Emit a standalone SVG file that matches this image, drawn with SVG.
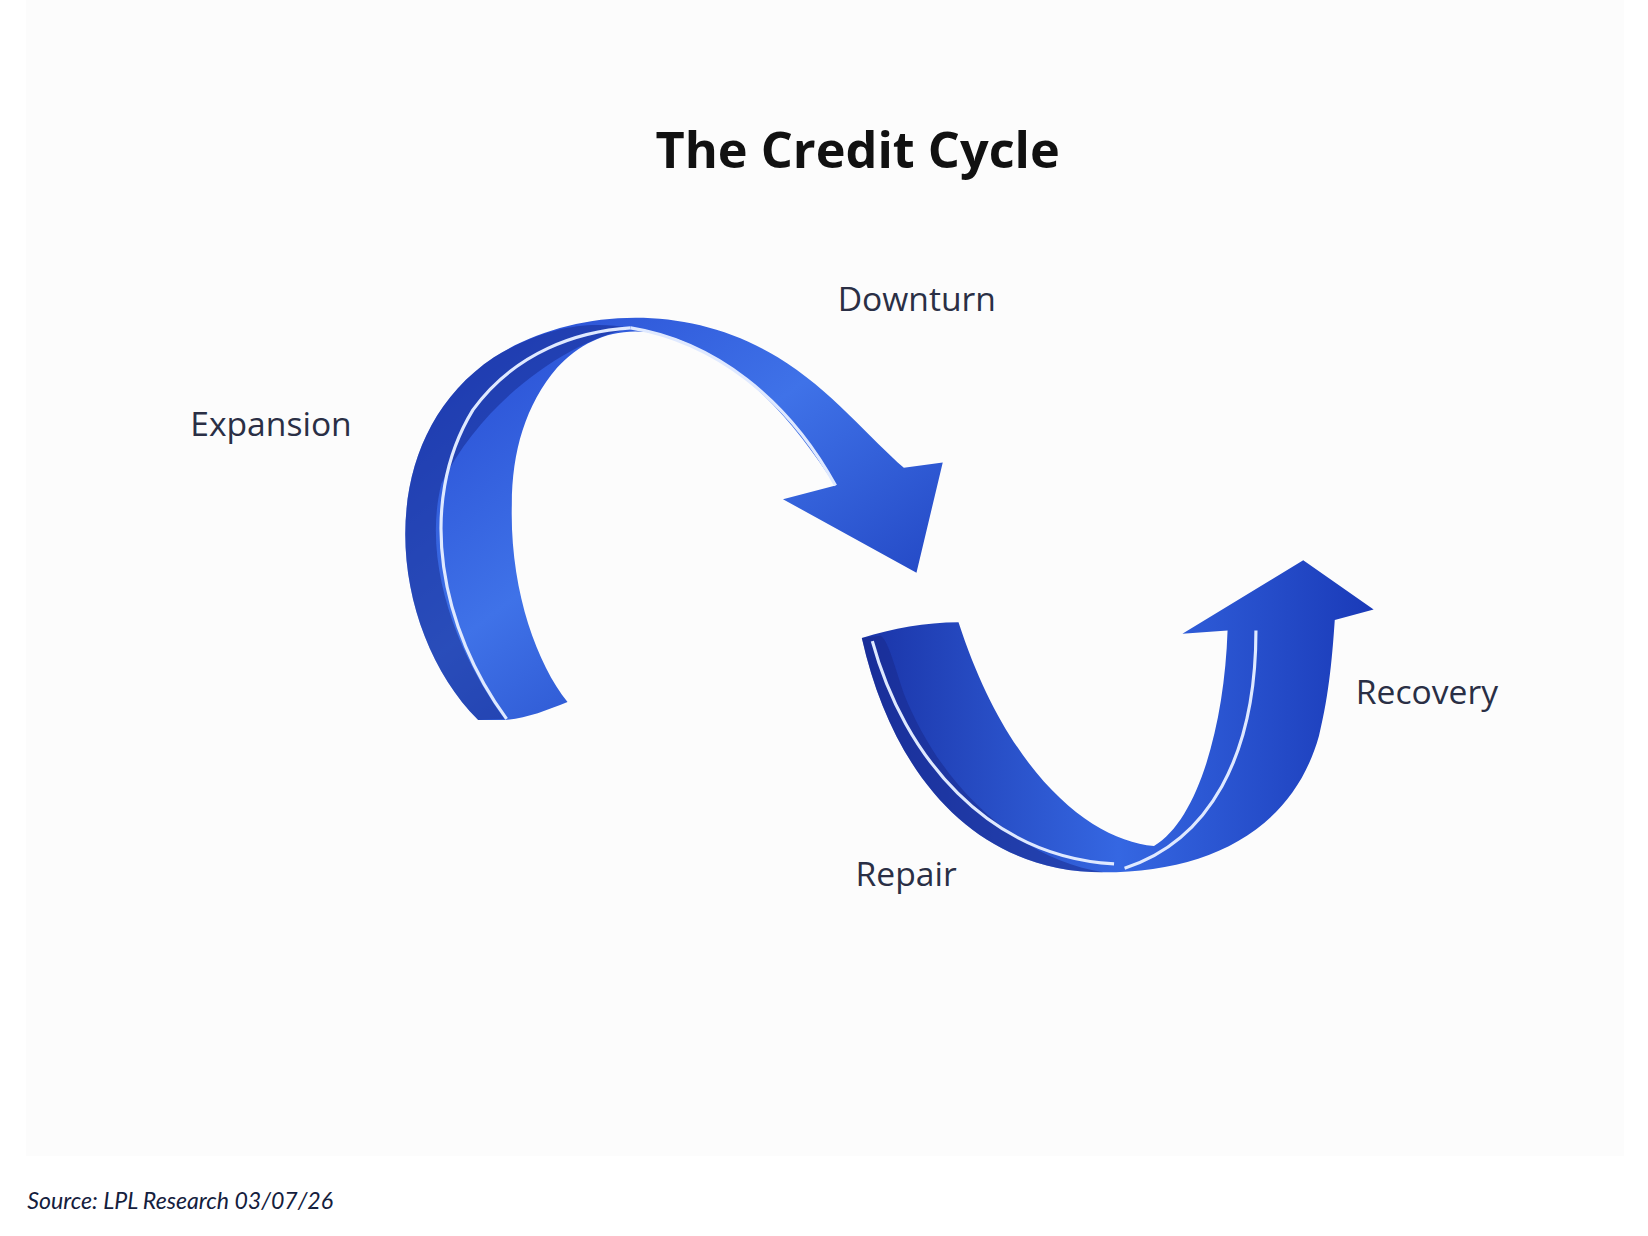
<svg xmlns="http://www.w3.org/2000/svg" width="1648" height="1236" viewBox="0 0 1648 1236">
<defs>
<linearGradient id="g1" x1="0" y1="0" x2="1" y2="1"><stop offset="0" stop-color="#2447d0"/><stop offset="0.45" stop-color="#3f72e8"/><stop offset="1" stop-color="#1634b4"/></linearGradient>
<linearGradient id="g2" x1="0" y1="0" x2="1" y2="0"><stop offset="0" stop-color="#1a34a8"/><stop offset="0.5" stop-color="#3567e2"/><stop offset="1" stop-color="#1a3ab8"/></linearGradient>
<style>
.lbl{font-family:"Open Sans","Liberation Sans",sans-serif;font-size:32px;fill:#2a2f45}
.hl{fill:none;stroke:#dfe9ff;stroke-width:3}
</style>
</defs>
<rect width="1648" height="1236" fill="#ffffff"/>
<rect x="26" y="0" width="1598" height="1156" fill="#fcfcfc"/>
<g transform="scale(1.051)">
<text x="816" y="160" text-anchor="middle" font-family="'Open Sans','Liberation Sans',sans-serif" font-weight="bold" font-size="48" fill="#111">The Credit Cycle</text>
<g id="arrow-downturn">
<path d="M455 685 C370 600 350 420 470 340 C540 295 650 285 740 340 C790 370 830 420 860 445 L897 440 L872 545 L745 475 L795 462 C760 410 720 355 650 325 C600 305 560 318 530 350 C500 385 487 430 487 480 C485 560 510 630 540 668 C520 676 500 684 480 685 Z" fill="url(#g1)"/>
<path d="M455 685 C370 600 350 420 470 340 C520 310 560 305 600 312 C540 325 460 380 420 460 C400 540 440 630 480 684 Z" fill="#14288c" opacity="0.5"/>
<path class="hl" d="M482 684 C420 600 395 480 450 390 C490 335 550 315 600 312"/>
<path class="hl" d="M600 312 C680 325 750 380 795 462"/>
</g>
<g id="arrow-recovery">
<path d="M820 607 C850 740 930 830 1050 830 C1150 830 1230 790 1255 700 C1265 660 1268 620 1270 590 L1307 580 L1240 533 L1125 603 L1168 600 C1165 690 1140 780 1098 805 C1040 800 960 740 912 592 C880 592 850 598 820 607 Z" fill="url(#g2)"/>
<path d="M820 607 C850 740 930 830 1050 830 C980 820 900 760 860 660 C850 630 845 610 838 605 Z" fill="#17288a" opacity="0.5"/>
<path class="hl" d="M830 610 C860 720 940 815 1060 822"/>
<path class="hl" d="M1195 600 C1195 720 1150 800 1070 826"/>
</g>
<g id="labels">
<text class="lbl" x="797" y="296">Downturn</text>
<text class="lbl" x="181" y="415">Expansion</text>
<text class="lbl" x="1290" y="670">Recovery</text>
<text class="lbl" x="814" y="843">Repair</text>
</g>
<text x="26" y="1150" font-family="'Lato','Liberation Sans',sans-serif" font-style="italic" font-size="22" fill="#14203d">Source: LPL Research 03/07/26</text>
</g>
</svg>
